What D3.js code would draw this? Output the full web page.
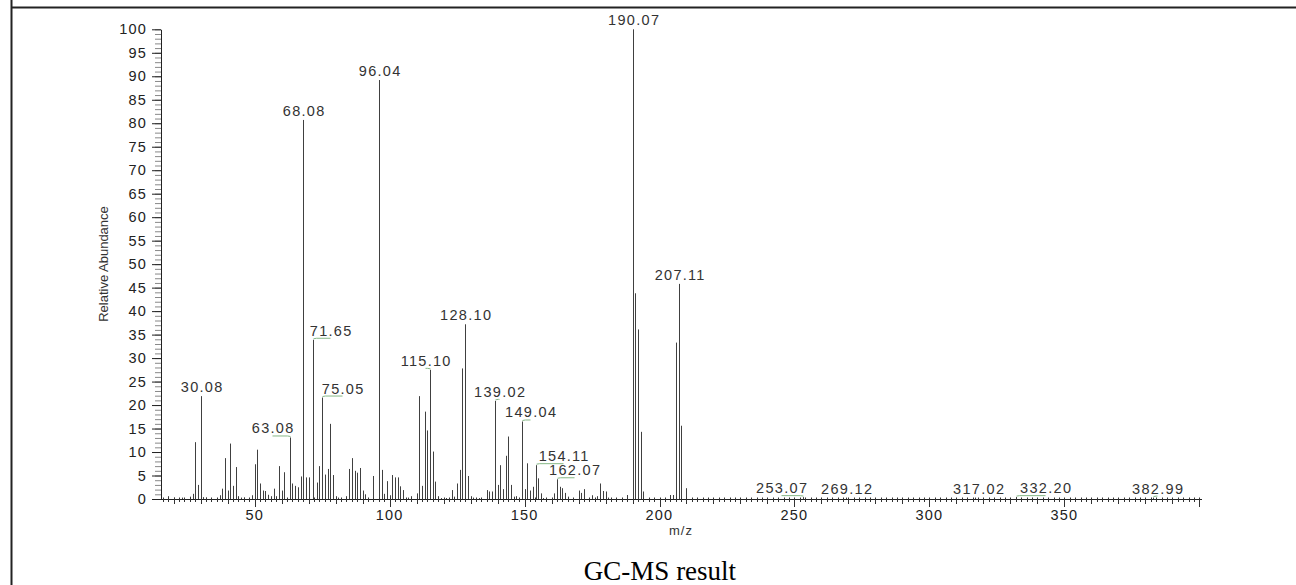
<!DOCTYPE html>
<html><head><meta charset="utf-8">
<script src="https://cdn.jsdelivr.net/npm/d3@7"></script>
<style>
body{margin:0;background:#fff;}
svg{display:block;}
</style></head><body>
<svg id="c" width="1296" height="585" font-family="Liberation Sans, Arial, sans-serif"></svg>
<script>
// ---------- data ----------
const mz = [18,20,23,26,27,28,29,30.08,31,32,37,38,39,40,41,42,43,44,45,46,49,50,51,52,53,54,55,56,57,58,59,60,61,63.08,64,65,66,67,68.08,69,70,71.65,73,74,75.05,76,77,78,79,80,81,84,85,86,87,88,89,90,91,94,96.04,97,98,99,100,101,102,103,104,105,107,108,110,111,112,113,114,115.10,116,117,118,119,121,123,124,125,126,127,128.10,129,130,131,133,136,137,138,139.02,140,141,142,143,144,145,146,147,149.04,150,151,152,153,154.11,155,156,157,158,161,162.07,163,164,165,166,170,171,172,175,177,178,179,180,181,188,190.07,191,192,193,194,204,205,206,207.11,208,210,253.07,269.12,317.02,332.20,382.99];
const abundance = [0.6,0.3,0.3,0.5,1.1,12.1,3.0,21.9,0.4,0.3,0.8,2.2,8.7,1.8,11.8,2.8,6.8,0.6,0.3,0.3,0.8,7.4,10.5,3.3,1.8,1.7,0.9,0.6,2.2,0.6,7.0,1.8,5.7,13.1,3.3,2.8,2.5,4.8,80.7,4.6,4.6,33.9,3.5,7.0,21.6,5.2,6.4,16.0,5.1,0.6,0.3,0.6,6.4,8.7,6.0,5.6,6.6,1.8,1.0,4.9,89.2,6.2,1.1,3.8,0.8,5.1,4.6,4.6,2.7,1.9,0.3,0.6,1.2,21.9,2.8,18.6,14.6,27.5,10.1,3.7,0.6,0.2,0.2,1.9,0.5,3.3,6.2,27.8,37.2,4.9,0.6,0.3,0.2,1.9,1.6,1.6,20.9,3.0,7.2,2.1,9.2,13.3,3.0,0.5,0.6,16.5,2.1,7.6,1.8,2.6,7.2,4.4,1.2,0.2,0.2,1.2,4.2,2.6,2.3,1.3,0.5,1.8,1.3,2.1,0.8,0.6,3.3,1.7,1.6,0.3,0.85,100,43.8,36.1,14.3,1.6,0.85,0.85,33.3,45.8,15.6,2.3,0.4,0.3,0.3,0.4,0.3];
const peakLabels = ["30.08","63.08","68.08","71.65","75.05","96.04","115.10","128.10","139.02","149.04","154.11","162.07","190.07","207.11","253.07","269.12","317.02","332.20","382.99"];
const yTickValues = d3.range(0, 101, 5);
const xTickValues = [50, 100, 150, 200, 250, 300, 350];
const xTitle = "m/z";
const yTitle = "Relative Abundance";
const caption = "GC-MS result";

// ---------- layout ----------
const svg = d3.select("#c");
const SANS = "'Liberation Sans', Arial, sans-serif";
const x = d3.scaleLinear().domain([15.3, 401]).range([161, 1202]);
const y = d3.scaleLinear().domain([0, 100]).range([499, 29.3]);
const labelShift = {"63.08":-18,"71.65":17,"75.05":20,"115.10":-5,"139.02":4,"149.04":8,"154.11":27,"162.07":17,"253.07":-22,"332.20":29,"317.02":3,"382.99":4};

// frame
svg.append("line").attr("x1",11).attr("x2",1296).attr("y1",7.5).attr("y2",7.5).attr("stroke","#222").attr("stroke-width",2);
svg.append("line").attr("x1",11.5).attr("x2",11.5).attr("y1",0).attr("y2",585).attr("stroke","#222").attr("stroke-width",2);

const peaks = mz.map((m,i)=>({m, v: abundance[i]}));

// peaks
svg.append("g").selectAll("line").data(peaks).join("line")
  .attr("x1", d=>Math.round(x(d.m))+0.5).attr("x2", d=>Math.round(x(d.m))+0.5)
  .attr("y1", y(0)).attr("y2", d=>y(d.v))
  .attr("stroke","#404040").attr("stroke-width",1);

// y axis minor
svg.append("g").attr("transform","translate(161,0)")
  .call(d3.axisLeft(y).tickValues(d3.range(0,101,1)).tickSize(6).tickFormat(""))
  .call(g=>g.select(".domain").remove())
  .call(g=>g.selectAll("line").attr("stroke","#888"));
// y axis major
svg.append("g").attr("transform","translate(161,0)")
  .call(d3.axisLeft(y).tickValues(yTickValues).tickSize(9).tickSizeOuter(0).tickPadding(5))
  .call(g=>g.attr("font-family",SANS))
  .call(g=>g.select(".domain").attr("stroke","#222"))
  .call(g=>g.selectAll("line").attr("stroke","#222"))
  .call(g=>g.selectAll("text").attr("font-size",14.5).attr("fill","#222").attr("letter-spacing","1.2px"));

// x axis
const xAxisG = svg.append("g").attr("transform",`translate(0,${y(0)})`);
xAxisG.append("line").attr("x1",161).attr("x2",1202).attr("y1",0.5).attr("y2",0.5).attr("stroke","#222");
const minorX = d3.range(16, 401, 2);
xAxisG.selectAll(".mn").data(minorX).join("line").attr("class","mn")
  .attr("x1",d=>Math.round(x(d))+0.5).attr("x2",d=>Math.round(x(d))+0.5)
  .attr("y1",-1.5).attr("y2",d=> d%10===0 ? (d%50===0?8:5) : 3)
  .attr("stroke","#333");
xAxisG.selectAll(".lbl").data(xTickValues).join("text").attr("class","lbl")
  .attr("x",d=>x(d)).attr("y",21).attr("text-anchor","middle")
  .attr("font-size",14.5).attr("fill","#222").attr("letter-spacing","1.2px")
  .text(d=>d);

// titles
svg.append("text").attr("transform","translate(108,264) rotate(-90)").attr("text-anchor","middle")
  .attr("font-size",13).attr("fill","#333").text(yTitle);
svg.append("text").attr("x",681).attr("y",535).attr("text-anchor","middle")
  .attr("font-size",13).attr("letter-spacing","1px").attr("fill","#333").text(xTitle);
svg.append("text").attr("x",660).attr("y",580).attr("text-anchor","middle")
  .attr("font-family","'Liberation Serif', 'Times New Roman', serif").attr("font-size",27).attr("fill","#000").text(caption);

// peak labels
const lab = svg.append("g");
peakLabels.forEach(s=>{
  const m = +s;
  const p = peaks.find(d=>Math.abs(d.m-m)<0.001);
  const px = Math.round(x(p.m))+0.5, top = y(p.v);
  const dx = labelShift[s] || 0;
  const base = top - 4;
  if (Math.abs(dx) >= 4) {
    lab.append("path").attr("d",`M${px},${top-1}L${px+Math.sign(dx)*3},${base+2.5}L${px+dx},${base+2.5}`)
      .attr("fill","none").attr("stroke","#86b886").attr("stroke-width",1);
  }
  lab.append("text").attr("x",px+dx+0.7).attr("y",base).attr("text-anchor","middle")
    .attr("font-size",14.5).attr("letter-spacing","1.3px").attr("fill","#333").text(s);
});
</script>
</body></html>
